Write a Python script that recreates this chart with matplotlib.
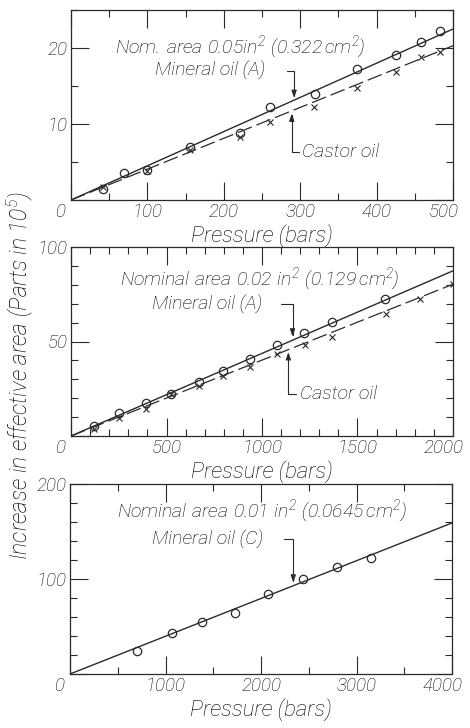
import numpy as np
import matplotlib
matplotlib.use("Agg")
import matplotlib.pyplot as plt
from matplotlib.ticker import MultipleLocator, FuncFormatter

# ---- data ----
# panel 1: nominal area 0.05 in^2
p1_mineral_x = [42, 70, 99, 156, 221, 261, 319, 374, 426, 458, 483]
p1_mineral_y = [1.4, 3.6, 3.9, 7.0, 8.8, 12.3, 14.0, 17.3, 19.1, 20.8, 22.2]
p1_castor_x = [42, 99, 156, 221, 261, 318, 375, 426, 458, 483]
p1_castor_y = [1.75, 3.85, 6.6, 8.3, 10.2, 12.3, 14.8, 16.8, 18.8, 19.5]
p1_fit_x = [0, 500]
p1_mineral_fit = [0, 22.5]
p1_castor_fit = [0, 20.3]

# panel 2: nominal area 0.02 in^2
p2_mineral_x = [120, 250, 395, 525, 670, 795, 935, 1080, 1218, 1365, 1644]
p2_mineral_y = [5.5, 12.1, 17.4, 22.2, 28.8, 34.2, 40.9, 47.9, 54.4, 60.1, 72.3]
p2_castor_x = [120, 250, 395, 525, 670, 795, 935, 1080, 1225, 1365, 1649, 1827, 2000]
p2_castor_y = [3.7, 9.4, 14.2, 22.0, 26.6, 31.6, 36.4, 43.6, 48.4, 52.5, 64.4, 72.7, 80.3]
p2_fit_x = [0, 2000]
p2_mineral_fit = [0, 87.4]
p2_castor_fit = [0, 80.3]

# panel 3: nominal area 0.01 in^2
p3_mineral_x = [698, 1064, 1379, 1728, 2076, 2440, 2792, 3155]
p3_mineral_y = [24.2, 43.5, 55.1, 63.9, 84.5, 100.5, 113.0, 122.6]
p3_fit_x = [0, 4000]
p3_mineral_fit = [0, 159]

INK = "#000000"
LINE = "#2a2a2a"
FS = 14
TICK_FS = 13.5

plt.rcParams['font.family'] = ['Roboto', 'DejaVu Sans']
plt.rcParams['font.style'] = 'italic'
plt.rcParams['font.weight'] = 'light'
plt.rcParams['axes.labelweight'] = 'light'
plt.rcParams['mathtext.fontset'] = 'custom'
plt.rcParams['mathtext.rm'] = 'Roboto:light'
plt.rcParams['mathtext.it'] = 'Roboto:italic:light'
plt.rcParams['text.color'] = INK


def setup(ax, xmax, ymax, xmaj, xmin, ymaj, ymin):
    ax.set_xlim(0, xmax)
    ax.set_ylim(0, ymax)
    ax.xaxis.set_major_locator(MultipleLocator(xmaj))
    ax.xaxis.set_minor_locator(MultipleLocator(xmin))
    ax.yaxis.set_major_locator(MultipleLocator(ymaj))
    ax.yaxis.set_minor_locator(MultipleLocator(ymin))
    ax.tick_params(which='both', direction='in', top=True, right=True,
                   color=LINE, labelcolor=INK, labelsize=TICK_FS, width=0.8)
    ax.tick_params(which='major', length=13, pad=2.5)
    ax.tick_params(which='minor', length=5)
    ax.yaxis.set_major_formatter(FuncFormatter(lambda v, p: '' if v == 0 else '%d' % v))
    # the corner "0" and the last value sit a little to the left in the plate,
    # so those two are placed by hand below
    ax.xaxis.set_major_formatter(
        FuncFormatter(lambda v, p: '' if v in (0, xmax) else '%d' % v))
    for v, dx in [(0, -7.5), (xmax, -7)]:
        ax.annotate('%d' % v, xy=(v, 0), xytext=(dx, -2.5),
                    textcoords='offset points', ha='center', va='top',
                    fontsize=TICK_FS, color=INK, annotation_clip=False)
    for s in ax.spines.values():
        s.set_color(LINE)
        s.set_linewidth(0.9)
    ax.set_xlabel('Pressure (bars)', fontsize=16, color=INK, labelpad=2,
                  fontweight='light')


def leader(ax, text_end, target):
    ax.annotate('', xy=target, xytext=text_end,
                arrowprops=dict(arrowstyle='-|>,head_length=0.45,head_width=0.15',
                                connectionstyle='angle,angleA=0,angleB=90,rad=0',
                                color=LINE, lw=0.8, shrinkA=0, shrinkB=0,
                                mutation_scale=10))


def mineral(ax, fx, fy, px, py):
    ax.plot(fx, fy, color=LINE, lw=1.0, solid_capstyle='butt')
    ax.plot(px, py, 'o', ms=6, mfc='none', mec=LINE, mew=0.9)


def castor(ax, fx, fy, px, py):
    ax.plot(fx, fy, color=LINE, lw=0.9, dashes=(12, 4))
    ax.plot(px, py, 'x', ms=4, mec=LINE, mew=0.8)


fig = plt.figure(figsize=(4.7, 7.28), dpi=100)
ax1 = fig.add_axes([71 / 470, 1 - 200 / 728, 382 / 470, 190 / 728])
ax2 = fig.add_axes([71 / 470, 1 - 436 / 728, 382 / 470, 189 / 728])
ax3 = fig.add_axes([70 / 470, 1 - 674 / 728, 382 / 470, 190 / 728])

# panel 1
setup(ax1, 500, 25, 100, 50, 10, 5)
mineral(ax1, p1_fit_x, p1_mineral_fit, p1_mineral_x, p1_mineral_y)
castor(ax1, p1_fit_x, p1_castor_fit, p1_castor_x, p1_castor_y)
ax1.text(58, 20.1, r'$\mathit{Nom.\,area\ 0.05}\mathrm{in}^{2}\ \mathit{(0.322}\,\mathrm{cm}^{2}\mathit{)}$',
         fontsize=FS, va='center', ha='left')
ax1.text(110, 17.0, 'Mineral oil (A)', fontsize=FS, va='center', ha='left')
leader(ax1, (283, 17.0), (292, 13.4))
ax1.text(303, 6.3, 'Castor oil', fontsize=FS, va='center', ha='left')
leader(ax1, (299, 6.3), (289, 11.4))

# panel 2
setup(ax2, 2000, 100, 500, 100, 50, 10)
mineral(ax2, p2_fit_x, p2_mineral_fit, p2_mineral_x, p2_mineral_y)
castor(ax2, p2_fit_x, p2_castor_fit, p2_castor_x, p2_castor_y)
ax2.text(257, 83, r'$\mathit{Nominal\ area\ 0.02}\ \mathrm{in}^{2}\ \mathit{(0.129}\,\mathrm{cm}^{2}\mathit{)}$',
         fontsize=FS, va='center', ha='left')
ax2.text(424, 69.7, 'Mineral oil (A)', fontsize=FS, va='center', ha='left')
leader(ax2, (1100, 69.7), (1160, 52.5))
ax2.text(1200, 22.3, 'Castor oil', fontsize=FS, va='center', ha='left')
leader(ax2, (1180, 22.3), (1138, 44.5))

# panel 3
setup(ax3, 4000, 200, 1000, 500, 100, 20)
mineral(ax3, p3_fit_x, p3_mineral_fit, p3_mineral_x, p3_mineral_y)
ax3.text(492, 171.6, r'$\mathit{Nominal\ area\ 0.01}\ \mathrm{in}^{2}\ \mathit{(0.0645}\,\mathrm{cm}^{2}\mathit{)}$',
         fontsize=FS, va='center', ha='left')
ax3.text(859, 142, 'Mineral oil (C)', fontsize=FS, va='center', ha='left')
leader(ax3, (2240, 142), (2338, 96))

fig.text(0.043, 1 - 376 / 728, r'Increase in effective area (Parts in $\mathit{10^{5}}$)',
         rotation=90, fontsize=16.5, va='center', ha='center', color=INK,
         fontweight='light')

fig.savefig('out.png', dpi=100)
